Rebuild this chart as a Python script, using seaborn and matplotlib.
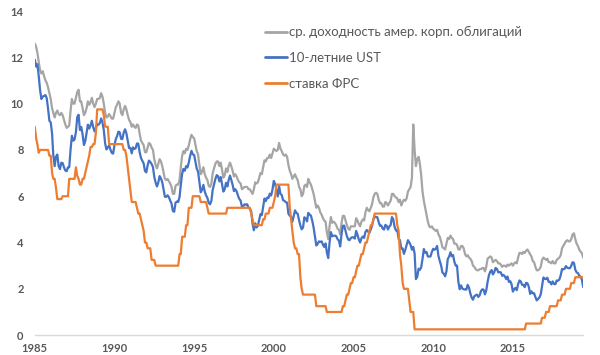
import matplotlib
matplotlib.use("Agg")
import matplotlib.pyplot as plt
import matplotlib.dates as mdates
import numpy as np
import pandas as pd
import seaborn as sns

# monthly data, Jan 1985 .. Jun 2019
corp = [
    12.6, 12.45, 12.2, 11.8, 11.45, 11.3, 11.4, 11.2, 11.0, 10.9, 10.7, 10.45,  # 1985
    10.2, 9.8, 9.6, 9.4, 9.6, 9.7, 9.55, 9.5, 9.6, 9.5, 9.3, 9.1,  # 1986
    8.95, 9.0, 9.05, 9.7, 10.2, 10.0, 10.0, 10.25, 10.5, 10.6, 10.1, 10.1,  # 1987
    9.8, 9.5, 9.6, 9.8, 10.1, 9.95, 10.05, 10.25, 10.0, 9.85, 10.0, 10.2,  # 1988
    10.2, 10.25, 10.45, 10.3, 10.0, 9.6, 9.4, 9.45, 9.55, 9.45, 9.35, 9.35,  # 1989
    9.6, 9.85, 9.95, 10.1, 10.0, 9.6, 9.5, 9.75, 9.9, 9.75, 9.5, 9.3,  # 1990
    9.2, 9.0, 9.1, 9.0, 8.95, 9.1, 9.05, 8.7, 8.4, 8.3, 8.2, 7.9,  # 1991
    7.9, 8.1, 8.3, 8.25, 8.1, 8.0, 7.6, 7.35, 7.2, 7.4, 7.6, 7.5,  # 1992
    7.3, 7.0, 6.75, 6.7, 6.75, 6.65, 6.55, 6.4, 6.1, 6.1, 6.45, 6.5,  # 1993
    6.5, 6.7, 7.25, 7.75, 7.95, 7.85, 8.05, 8.0, 8.2, 8.45, 8.65, 8.55,  # 1994
    8.5, 8.2, 7.95, 7.8, 7.35, 6.95, 7.05, 7.25, 6.95, 6.8, 6.7, 6.45,  # 1995
    6.4, 6.55, 7.0, 7.2, 7.4, 7.5, 7.5, 7.3, 7.45, 7.15, 6.8, 6.9,  # 1996
    7.2, 7.05, 7.3, 7.45, 7.3, 7.1, 6.85, 6.95, 6.85, 6.7, 6.6, 6.55,  # 1997
    6.3, 6.35, 6.4, 6.4, 6.4, 6.3, 6.3, 6.2, 6.1, 6.3, 6.6, 6.55,  # 1998
    6.6, 6.8, 7.0, 6.95, 7.25, 7.55, 7.5, 7.65, 7.65, 7.8, 7.65, 7.85,  # 1999
    8.05, 8.0, 7.95, 8.0, 8.3, 8.05, 7.95, 7.8, 7.75, 7.8, 7.7, 7.35,  # 2000
    7.1, 6.95, 6.75, 6.85, 6.95, 6.8, 6.7, 6.4, 6.3, 6.0, 6.1, 6.45,  # 2001
    6.5, 6.4, 6.75, 6.6, 6.5, 6.3, 6.1, 5.8, 5.5, 5.6, 5.5, 5.3,  # 2002
    5.2, 5.05, 4.95, 4.9, 4.45, 4.15, 4.7, 5.1, 4.85, 4.9, 4.85, 4.75,  # 2003
    4.6, 4.55, 4.35, 4.85, 5.15, 5.15, 4.95, 4.75, 4.6, 4.55, 4.7, 4.7,  # 2004
    4.7, 4.7, 5.05, 4.95, 4.8, 4.7, 4.9, 5.0, 4.95, 5.3, 5.5, 5.4,  # 2005
    5.35, 5.5, 5.65, 5.95, 6.1, 6.15, 6.1, 5.85, 5.7, 5.7, 5.55, 5.55,  # 2006
    5.75, 5.7, 5.6, 5.7, 5.8, 6.1, 6.1, 6.0, 5.95, 5.9, 5.75, 5.85,  # 2007
    5.6, 5.75, 5.85, 5.8, 5.9, 6.2, 6.3, 6.4, 6.8, 9.1, 8.0, 7.3,  # 2008
    7.6, 7.7, 7.4, 6.9, 6.2, 5.8, 5.5, 5.2, 4.9, 4.7, 4.65, 4.7,  # 2009
    4.6, 4.55, 4.5, 4.55, 4.35, 4.25, 4.05, 3.8, 3.75, 3.7, 3.95, 4.2,  # 2010
    4.15, 4.3, 4.2, 4.15, 3.95, 3.95, 3.9, 3.7, 3.7, 3.85, 3.85, 3.75,  # 2011
    3.5, 3.4, 3.45, 3.35, 3.3, 3.2, 3.0, 2.95, 2.85, 2.8, 2.8, 2.85,  # 2012
    2.85, 2.9, 2.9, 2.75, 2.95, 3.3, 3.35, 3.4, 3.35, 3.15, 3.2, 3.25,  # 2013
    3.2, 3.1, 3.1, 3.05, 2.95, 3.0, 3.0, 2.95, 3.05, 3.0, 3.05, 3.1,  # 2014
    3.0, 3.1, 3.15, 3.1, 3.35, 3.55, 3.55, 3.5, 3.6, 3.55, 3.65, 3.7,  # 2015
    3.6, 3.5, 3.4, 3.2, 3.15, 2.95, 2.8, 2.8, 2.85, 2.95, 3.25, 3.35,  # 2016
    3.3, 3.25, 3.3, 3.15, 3.15, 3.1, 3.2, 3.1, 3.1, 3.25, 3.3, 3.35,  # 2017
    3.45, 3.75, 3.85, 3.95, 4.05, 4.1, 4.05, 4.05, 4.15, 4.35, 4.4, 4.15,  # 2018
    3.95, 3.85, 3.7, 3.6, 3.55, 3.35,  # 2019
]

ust10 = [
    11.9, 11.6, 11.7, 11.2, 10.6, 10.2, 10.3, 10.33, 10.37, 10.24, 9.78, 9.26,  # 1985
    9.19, 8.70, 7.78, 7.30, 7.71, 7.80, 7.30, 7.17, 7.45, 7.43, 7.25, 7.11,  # 1986
    7.08, 7.25, 7.25, 8.02, 8.61, 8.40, 8.45, 8.76, 9.42, 9.52, 8.86, 8.99,  # 1987
    8.67, 8.21, 8.37, 8.72, 9.09, 8.92, 9.06, 9.26, 8.98, 8.80, 8.96, 9.11,  # 1988
    9.09, 9.17, 9.36, 9.18, 8.86, 8.28, 8.02, 8.11, 8.19, 8.01, 7.87, 7.84,  # 1989
    8.21, 8.47, 8.59, 8.79, 8.76, 8.48, 8.47, 8.75, 8.89, 8.72, 8.39, 8.08,  # 1990
    8.09, 7.85, 8.11, 8.04, 8.07, 8.28, 8.27, 7.90, 7.65, 7.53, 7.42, 7.09,  # 1991
    7.03, 7.34, 7.54, 7.48, 7.39, 7.26, 6.84, 6.59, 6.42, 6.59, 6.87, 6.77,  # 1992
    6.60, 6.26, 5.98, 5.97, 6.04, 5.96, 5.81, 5.68, 5.36, 5.33, 5.72, 5.77,  # 1993
    5.75, 5.97, 6.48, 6.97, 7.18, 7.10, 7.30, 7.24, 7.46, 7.74, 7.96, 7.81,  # 1994
    7.78, 7.47, 7.20, 7.06, 6.63, 6.17, 6.28, 6.49, 6.20, 6.04, 5.93, 5.71,  # 1995
    5.65, 5.81, 6.27, 6.51, 6.74, 6.91, 6.87, 6.64, 6.83, 6.53, 6.20, 6.30,  # 1996
    6.58, 6.42, 6.69, 6.89, 6.71, 6.49, 6.22, 6.30, 6.21, 6.03, 5.88, 5.81,  # 1997
    5.54, 5.57, 5.65, 5.64, 5.65, 5.50, 5.46, 5.34, 4.81, 4.53, 4.83, 4.65,  # 1998
    4.72, 5.00, 5.23, 5.18, 5.54, 5.90, 5.79, 5.94, 5.92, 6.11, 6.03, 6.28,  # 1999
    6.66, 6.52, 6.26, 5.99, 6.44, 6.10, 6.05, 5.83, 5.80, 5.74, 5.72, 5.24,  # 2000
    5.16, 5.10, 4.89, 5.14, 5.39, 5.28, 5.24, 4.97, 4.73, 4.57, 4.65, 5.09,  # 2001
    5.04, 4.91, 5.28, 5.21, 5.16, 4.93, 4.65, 4.26, 3.87, 3.94, 4.05, 4.03,  # 2002
    4.05, 3.90, 3.81, 3.96, 3.57, 3.33, 3.98, 4.45, 4.27, 4.29, 4.30, 4.27,  # 2003
    4.15, 4.08, 3.83, 4.35, 4.72, 4.73, 4.50, 4.28, 4.13, 4.10, 4.19, 4.23,  # 2004
    4.22, 4.17, 4.50, 4.34, 4.14, 4.00, 4.18, 4.26, 4.20, 4.46, 4.54, 4.47,  # 2005
    4.42, 4.57, 4.72, 4.99, 5.11, 5.11, 5.09, 4.88, 4.72, 4.73, 4.60, 4.56,  # 2006
    4.76, 4.72, 4.56, 4.69, 4.75, 5.10, 5.00, 4.67, 4.52, 4.53, 4.15, 4.10,  # 2007
    3.74, 3.74, 3.51, 3.68, 3.88, 4.10, 4.01, 3.89, 3.69, 3.81, 3.53, 2.42,  # 2008
    2.52, 2.87, 2.82, 2.93, 3.29, 3.72, 3.56, 3.59, 3.40, 3.39, 3.40, 3.59,  # 2009
    3.73, 3.69, 3.73, 3.85, 3.42, 3.20, 3.01, 2.70, 2.65, 2.54, 2.76, 3.29,  # 2010
    3.39, 3.58, 3.41, 3.46, 3.17, 3.00, 3.00, 2.30, 1.98, 2.15, 2.01, 1.98,  # 2011
    1.97, 1.97, 2.17, 2.05, 1.80, 1.62, 1.53, 1.68, 1.72, 1.75, 1.65, 1.72,  # 2012
    1.91, 1.98, 1.96, 1.76, 1.93, 2.30, 2.58, 2.74, 2.81, 2.62, 2.72, 2.90,  # 2013
    2.86, 2.71, 2.72, 2.71, 2.56, 2.60, 2.54, 2.42, 2.53, 2.30, 2.33, 2.21,  # 2014
    1.88, 1.98, 2.04, 1.94, 2.20, 2.36, 2.32, 2.17, 2.17, 2.07, 2.26, 2.24,  # 2015
    2.09, 1.78, 1.89, 1.81, 1.81, 1.64, 1.50, 1.56, 1.63, 1.76, 2.14, 2.49,  # 2016
    2.43, 2.42, 2.48, 2.30, 2.30, 2.19, 2.32, 2.21, 2.20, 2.36, 2.35, 2.40,  # 2017
    2.58, 2.86, 2.84, 2.87, 2.98, 2.91, 2.89, 2.89, 3.00, 3.15, 3.12, 2.83,  # 2018
    2.71, 2.68, 2.57, 2.53, 2.40, 2.07,  # 2019
]

fed = [
    9.0, 8.5, 8.25, 7.875, 8.0, 8.0, 8.0, 8.0, 8.0, 8.0, 8.0, 7.75,  # 1985
    7.75, 7.0, 6.75, 6.75, 6.375, 5.875, 5.875, 5.875, 5.875, 6.0, 6.0, 6.0,  # 1986
    6.0, 6.0, 6.75, 6.75, 6.75, 6.75, 6.75, 7.25, 6.875, 6.75, 6.5, 6.5,  # 1987
    6.75, 6.75, 7.0, 7.25, 7.5, 7.75, 8.125, 8.125, 8.25, 8.25, 8.75, 9.75,  # 1988
    9.75, 9.75, 9.75, 9.75, 9.5, 9.0, 9.0, 9.0, 8.25, 8.25, 8.25, 8.25,  # 1989
    8.25, 8.25, 8.25, 8.25, 8.25, 8.25, 8.25, 8.0, 8.0, 7.75, 7.25, 6.75,  # 1990
    6.25, 5.75, 5.75, 5.75, 5.75, 5.5, 5.25, 5.25, 5.0, 4.75, 4.5, 4.0,  # 1991
    4.0, 3.75, 3.75, 3.75, 3.25, 3.25, 3.25, 3.0, 3.0, 3.0, 3.0, 3.0,  # 1992
    3.0, 3.0, 3.0, 3.0, 3.0, 3.0, 3.0, 3.0, 3.0, 3.0, 3.0, 3.0,  # 1993
    3.0, 3.5, 3.5, 4.25, 4.25, 4.25, 4.75, 4.75, 5.5, 5.5, 5.5, 6.0,  # 1994
    6.0, 6.0, 6.0, 6.0, 6.0, 5.75, 5.75, 5.75, 5.75, 5.75, 5.5, 5.25,  # 1995
    5.25, 5.25, 5.25, 5.25, 5.25, 5.25, 5.25, 5.25, 5.25, 5.25, 5.25, 5.25,  # 1996
    5.25, 5.5, 5.5, 5.5, 5.5, 5.5, 5.5, 5.5, 5.5, 5.5, 5.5, 5.5,  # 1997
    5.5, 5.5, 5.5, 5.5, 5.5, 5.5, 5.5, 5.25, 5.0, 4.75, 4.75, 4.75,  # 1998
    4.75, 4.75, 4.75, 4.75, 5.0, 5.0, 5.25, 5.25, 5.25, 5.5, 5.5, 5.5,  # 1999
    5.75, 6.0, 6.5, 6.5, 6.5, 6.5, 6.5, 6.5, 6.5, 6.5, 6.5, 6.5,  # 2000
    5.5, 5.0, 4.5, 4.0, 3.75, 3.75, 3.5, 3.5, 2.5, 2.0, 1.75, 1.75,  # 2001
    1.75, 1.75, 1.75, 1.75, 1.75, 1.75, 1.75, 1.75, 1.25, 1.25, 1.25, 1.25,  # 2002
    1.25, 1.25, 1.25, 1.25, 1.0, 1.0, 1.0, 1.0, 1.0, 1.0, 1.0, 1.0,  # 2003
    1.0, 1.0, 1.0, 1.0, 1.25, 1.25, 1.5, 1.75, 1.75, 2.0, 2.25, 2.25,  # 2004
    2.5, 2.5, 2.75, 3.0, 3.0, 3.25, 3.5, 3.5, 3.75, 4.0, 4.0, 4.25,  # 2005
    4.5, 4.75, 4.75, 5.0, 5.25, 5.25, 5.25, 5.25, 5.25, 5.25, 5.25, 5.25,  # 2006
    5.25, 5.25, 5.25, 5.25, 5.25, 5.25, 5.25, 5.25, 5.25, 4.75, 4.5, 3.5,  # 2007
    3.0, 2.25, 2.0, 2.0, 2.0, 2.0, 1.5, 1.0, 1.0, 1.0, 0.25, 0.25,  # 2008
] + [0.25] * 12 * 6 + [  # 2009-2014
    0.25, 0.25, 0.25, 0.25, 0.25, 0.25, 0.25, 0.25, 0.25, 0.25, 0.5, 0.5,  # 2015
    0.5, 0.5, 0.5, 0.5, 0.5, 0.5, 0.5, 0.5, 0.5, 0.5, 0.75, 0.75,  # 2016
    0.75, 1.0, 1.0, 1.0, 1.25, 1.25, 1.25, 1.25, 1.25, 1.25, 1.5, 1.5,  # 2017
    1.5, 1.75, 1.75, 1.75, 2.0, 2.0, 2.0, 2.0, 2.25, 2.25, 2.25, 2.5,  # 2018
    2.5, 2.5, 2.5, 2.5, 2.5, 2.5,  # 2019
]

labels = ["ср. доходность амер. корп. облигаций", "10-летние UST", "ставка ФРС"]
colors = ["#A5A5A5", "#4472C4", "#ED7D31"]

dates = pd.date_range("1985-01-01", periods=len(ust10), freq="MS")
df = pd.DataFrame({"date": dates, labels[0]: corp, labels[1]: ust10, labels[2]: fed})
long = df.melt(id_vars="date", var_name="series", value_name="value")

sns.set_style("white")
plt.rcParams["font.family"] = ["Lato", "DejaVu Sans"]

fig = plt.figure(figsize=(6, 3.55), dpi=100)
ax = fig.add_axes([0.058, 0.056, 0.914, 0.913])
sns.lineplot(data=long, x="date", y="value", hue="series", hue_order=labels,
             palette=colors, linewidth=1.6, ax=ax)

ax.set_ylim(0, 14)
ax.set_yticks(range(0, 15, 2))
ax.set_xlim(dates[0], dates[-1])
ax.xaxis.set_major_locator(mdates.YearLocator(5))
ax.xaxis.set_major_formatter(mdates.DateFormatter("%Y"))
ax.set_xlabel("")
ax.set_ylabel("")

for s in ["left", "top", "right"]:
    ax.spines[s].set_visible(False)
ax.spines["bottom"].set_color("#d9d9d9")
ax.spines["bottom"].set_linewidth(1.0)
ax.tick_params(axis="y", length=0, pad=8, labelsize=8, labelcolor="#595959")
ax.tick_params(axis="x", length=4, direction="inout", color="#d9d9d9",
               pad=4, labelsize=8, labelcolor="#595959")
for t in ax.get_xticklabels() + ax.get_yticklabels():
    t.set_fontweight("bold")

leg = ax.legend(loc="upper left", bbox_to_anchor=(265 / 600, 1 - 26 / 355),
                bbox_transform=fig.transFigure, frameon=False, fontsize=9.5,
                handlelength=1.7, handletextpad=0.15, labelspacing=1.05,
                borderpad=0, borderaxespad=0)
for t in leg.get_texts():
    t.set_color("#595959")
for h in leg.get_lines():
    h.set_linewidth(2)

fig.savefig("out.png", dpi=100)
